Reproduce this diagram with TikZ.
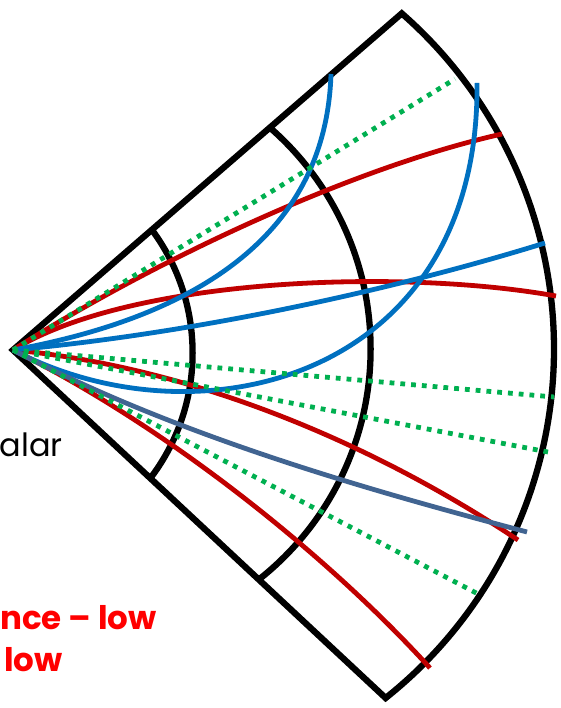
\documentclass[tikz,border=0pt]{standalone}
\usepackage{fontspec}
\setmainfont{Poppins}
\usepackage{xcolor}
\usepackage{tikz}
\usetikzlibrary{calc}

\definecolor{rayred}{RGB}{192,0,0}
\definecolor{rayblue}{RGB}{0,112,192}
\definecolor{rayslate}{RGB}{65,100,145}
\definecolor{raygreen}{RGB}{0,176,80}
\definecolor{txtred}{RGB}{255,0,0}

\tikzset{
	wedge/.style={line width=6.3pt, line join=miter},
	redray/.style={line width=4.8pt, rayred},
	blueray/.style={line width=4.8pt, rayblue},
	slateray/.style={line width=4.8pt, rayslate},
	greenray/.style={line width=4.8pt, raygreen, dash pattern=on 4.8pt off 6pt},
	lbl/.style={anchor=base east, inner sep=0pt},
}

\begin{document}
\begin{tikzpicture}[x=1pt, y=1pt]
		% Frame
		\clip (0,0) rectangle (560,708);
		
		% Apex and outer corners
		\coordinate (O) at (13,358);
		\coordinate (C) at (108,359);
		\def\rout{446}
		\coordinate (U) at ($(C)+(48.8:\rout)$);
		\coordinate (L) at ($(C)+(-51.5:\rout)$);
		
		% Inner arcs, cut by the wedge
		\begin{scope}
			\clip (O) -- ($(O)!2!(U)$) -- ($(O)!2!(L)$) -- cycle;
			\draw[wedge] (-14,355) circle (206.6);
			\draw[wedge] (77,359) circle (293.6);
		\end{scope}
		
		% Wedge
		\draw[wedge] (O) -- (U) arc[start angle=48.8, end angle=-51.5, radius=\rout] -- cycle;
		
		% Ray ends
		\coordinate (r1) at (502,574);
		\coordinate (r2) at (556,412);
		\coordinate (r3) at (518,168);
		\coordinate (r4) at (430,40);
		\coordinate (b1) at (331,634);
		\coordinate (b2) at (477,625);
		\coordinate (b3) at (545,465);
		\coordinate (s1) at (527,176);
		\coordinate (g1) at (455,629);
		\coordinate (g2) at (554,311);
		\coordinate (g3) at (548,256);
		\coordinate (g4) at (480,113);
		
		% Red rays
		\draw[redray] (O) .. controls (150,445) and (350,540) .. (r1);
		\draw[redray] (O) .. controls (130,430) and (400,440) .. (r2);
		\draw[redray] (O) .. controls (200,340) and (380,260) .. (r3);
		\draw[redray] (O) .. controls (170,280) and (330,150) .. (r4);
		
		% Blue rays
		\draw[blueray] (O) .. controls (200,392) and (326,475) .. (b1);
		\draw[blueray] (O) .. controls (200,260) and (480,330) .. (b2);
		\draw[blueray] (O) .. controls (200,375) and (400,420) .. (b3);
		\draw[slateray] (O) .. controls (180,270) and (380,215) .. (s1);
		
		% Green straight rays
		\foreach \g in {g1,g2,g3,g4}
		\draw[greenray] (O) -- (\g);
		
		% Labels
		\node[lbl, font=\fontsize{32}{38}\selectfont] (scal) at (63,251) {alar};
		\node[lbl, txtred, font=\fontsize{32.5}{38}\selectfont\bfseries] (lowa) at (157,78) {nce – low};
		\node[lbl, txtred, font=\fontsize{32.5}{38}\selectfont\bfseries] (lowb) at (63,36) {low};
	\end{tikzpicture}
\end{document}
